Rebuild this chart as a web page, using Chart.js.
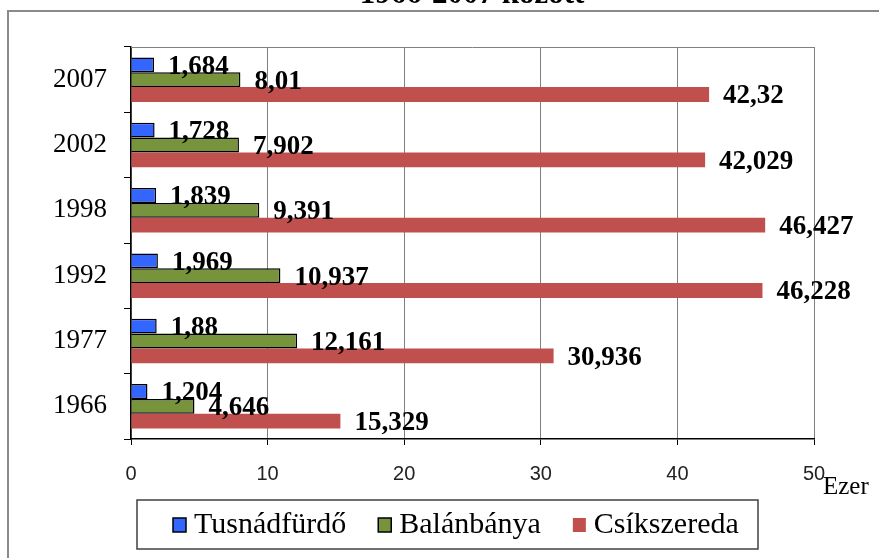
<!DOCTYPE html>
<html lang="hu">
  <head>
    <meta charset="UTF-8" />
    <title>1966-2007 között</title>
    <script src="https://cdn.jsdelivr.net/npm/chart.js@4.5.0/dist/chart.umd.min.js"></script>
    <style>
      body { margin: 0; background: #fff; }
    </style>
  </head>
  <body>
    <canvas id="myChart" width="879" height="558"></canvas>

    <script>
      // data (thousands of people)
      const years = ["2007", "2002", "1998", "1992", "1977", "1966"];
      const tusnadfurdo = [1.684, 1.728, 1.839, 1.969, 1.88, 1.204];
      const balanbanya = [8.01, 7.902, 9.391, 10.937, 12.161, 4.646];
      const csikszereda = [42.32, 42.029, 46.427, 46.228, 30.936, 15.329];
      const xTicks = [0, 10, 20, 30, 40, 50];

      const serif = '"Liberation Serif", "Times New Roman", serif';
      const sans = '"Liberation Sans", Arial, sans-serif';

      // frame, cut-off title, "Ezer", top border and the boxed legend
      const decor = {
        id: "decor",
        beforeDraw(chart) {
          const c = chart.ctx;
          c.save();
          c.fillStyle = "#fff";
          c.fillRect(0, 0, chart.width, chart.height);
          c.strokeStyle = "#8a8a8a";
          c.lineWidth = 2;
          c.beginPath();
          c.moveTo(8, chart.height);
          c.lineTo(8, 11);
          c.lineTo(chart.width, 11);
          c.stroke();
          c.fillStyle = "#000";
          c.font = "bold 31px " + serif;
          c.textAlign = "center";
          c.textBaseline = "alphabetic";
          c.fillText("1966-2007 között", 472, 3);
          c.restore();
        },
        afterDraw(chart) {
          const c = chart.ctx;
          const a = chart.chartArea;
          c.save();
          c.strokeStyle = "#808080";
          c.lineWidth = 1;
          c.beginPath();
          c.moveTo(a.left, a.top + 0.5);
          c.lineTo(a.right, a.top + 0.5);
          c.stroke();

          c.fillStyle = "#000";
          c.font = "25px " + serif;
          c.textAlign = "left";
          c.textBaseline = "alphabetic";
          c.fillText("Ezer", 823, 494);

          // legend
          c.strokeStyle = "#404040";
          c.lineWidth = 1.5;
          c.strokeRect(137, 500, 621, 49);
          c.font = "30px " + serif;
          let x = 173;
          chart.data.datasets.forEach((ds) => {
            c.fillStyle = ds.backgroundColor;
            c.fillRect(x, 518, 13, 14);
            if (ds.borderWidth) {
              c.strokeStyle = "#000";
              c.lineWidth = 1.5;
              c.strokeRect(x, 518, 13, 14);
            }
            c.fillStyle = "#000";
            c.fillText(ds.label, x + 21, 533);
            x += 21 + c.measureText(ds.label).width + 32;
          });
          c.restore();
        },
      };

      // value labels at the end of each bar
      const valueLabels = {
        id: "valueLabels",
        afterDatasetsDraw(chart) {
          const c = chart.ctx;
          c.save();
          c.font = "bold 27px " + serif;
          c.fillStyle = "#000";
          c.textAlign = "left";
          c.textBaseline = "middle";
          chart.data.datasets.forEach((ds, i) => {
            chart.getDatasetMeta(i).data.forEach((el, j) => {
              const txt = String(ds.data[j]).replace(".", ",");
              c.fillText(txt, el.x + 14, el.y + 2);
            });
          });
          c.restore();
        },
      };

      const ctx = document.getElementById("myChart");
      new Chart(ctx, {
        type: "bar",
        data: {
          labels: years,
          datasets: [
            {
              label: "Tusnádfürdő",
              data: tusnadfurdo,
              backgroundColor: "#3366FF",
              borderColor: "#000",
              borderWidth: 1.5,
            },
            {
              label: "Balánbánya",
              data: balanbanya,
              backgroundColor: "#77933C",
              borderColor: "#000",
              borderWidth: 1.5,
            },
            {
              label: "Csíkszereda",
              data: csikszereda,
              backgroundColor: "#C0504D",
              borderWidth: 0,
            },
          ],
        },
        options: {
          indexAxis: "y",
          responsive: false,
          animation: false,
          categoryPercentage: 0.68,
          barPercentage: 1,
          layout: { padding: { top: 47, right: 65, bottom: 69, left: 0 } },
          plugins: {
            legend: { display: false },
            tooltip: { enabled: false },
          },
          scales: {
            x: {
              min: 0,
              max: 50,
              afterFit: (s) => { s.height = 50; },
              afterBuildTicks: (s) => { s.ticks = xTicks.map((v) => ({ value: v })); },
              ticks: {
                color: "#222",
                font: { family: sans, size: 20 },
                padding: 17,
              },
              grid: { color: "#808080", tickColor: "#000", tickLength: 6 },
              border: { color: "#000", width: 1.5 },
            },
            y: {
              afterFit: (s) => { s.width = 131; },
              ticks: {
                color: "#000",
                font: { family: serif, size: 27 },
                padding: 17,
              },
              grid: {
                drawOnChartArea: false,
                tickColor: "#000",
                tickLength: 7,
              },
              border: { color: "#000", width: 1.5 },
            },
          },
        },
        plugins: [decor, valueLabels],
      });
    </script>
  </body>
</html>
